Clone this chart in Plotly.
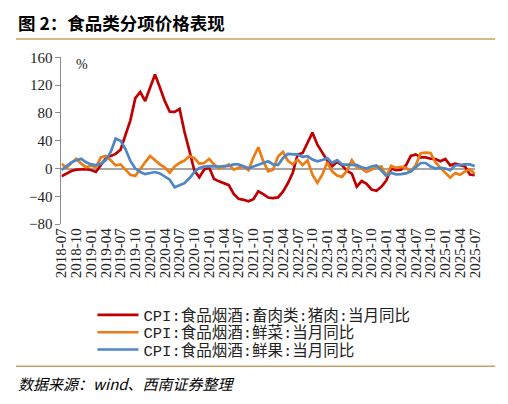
import plotly.graph_objects as go

# ---- data ----
months = [f"{y}-{m:02d}" for y in range(2018, 2026) for m in range(1, 13)]
months = months[months.index("2018-07"):months.index("2025-07") + 1]

pork = [-11, -7.5, -3.5, -1.5, -1, -1, -2, -4.8, 5.1, 14.4, 18.2, 21.1,
        27.0, 46.7, 69.3, 101.3, 110.2, 97.0, 116.0, 135.2, 116.4, 96.9, 81.7, 81.6,
        85.7, 52.6, 25.5, -2.8, -12.5, -1.3, 1.5, -14.9, -18.4, -21.4, -23.8, -36.5,
        -43.5, -44.9, -46.9, -44.0, -32.7, -36.7, -41.6, -42.5, -41.4, -33.3, -21.1, -6.0,
        20.2, 22.4, 36.0, 51.8, 34.4, 22.2, 11.8, 3.4, 9.6, 4.9, -3.2, -7.2,
        -26.0, -17.9, -22.0, -30.1, -31.8, -26.1, -17.3, 0.0, -2.4, -1.5, 4.6, 18.1,
        20.4, 16.1, 16.1, 14.2, 13.7, 10.5, 13.8, 4.7, 7.0, 5.0, 3.1, -8.5,
        -9.5]

veg = [7, 1, 8, 14, 7, 2, 4, 2, 16, 18, 12, 4.6,
       6, -1.5, -9, -10.5, 0, 9, 18, 12, 6, 1.5, -6, 3,
       8, 11.5, 18, 15, 7, 8, 14, 6, 0.5, 2, 6, -1.5,
       1.5, 2.3, -2.3, 15.9, 30.6, 10.6, -4.1, -1.5, 17.2, 24.0, 11.3, 6.1,
       12.9, 5, 12, -8.7, -20.5, -8.7, 9, -4, -10, -12, -3, 12,
       2, 0, -5, -1.5, 2, 3, -11, 4, 1, 2.5, 1, -4,
       5, 22, 23, 22.5, 9, 1, -6, -13, -6.5, -9, -4, -1,
       -7.5]

fruit = [-2, 3, 9, 12, 14, 9, 6, 5, 7, 12, 24, 43,
         40, 28, 11, 0, -5, -8, -6, -5, -7, -11, -16, -27,
         -24, -21, -14, -5, 1, 3, 3.5, 3, 3, 3.5, 4, 6,
         6, 3.5, 0.5, 3, 6, 8, 10.5, 6, 5, 15, 21, 20.5,
         20, 17, 18, 13, 10.5, 12.4, 15, 8, 12, 6, 6, 6,
         5, 2, 0, 3, 4.6, -3, -10.5, -6, -8.5, -8, -7, -4,
         1.5, 8, 8, 3, 0, 1, 0, -2.5, 4.5, 5.5, 6, 6,
         3.5]

names = ["CPI:食品烟酒:畜肉类:猪肉:当月同比",
         "CPI:食品烟酒:鲜菜:当月同比",
         "CPI:食品烟酒:鲜果:当月同比"]
colors = ["#C00000", "#ED7D12", "#4F86C6"]

y_ticks = [-80, -40, 0, 40, 80, 120, 160]
x_ticks = months[::3]

# ---- layout helpers ----
# The page body has an 8px default margin, so the figure is sized to fill the
# remaining window and page-pixel targets are shifted by that offset.
OFF = 8
W, H = 508 - OFF, 404 - OFF
PLOT_L, PLOT_R, PLOT_T, PLOT_B = 55, 482, 51, 225   # page pixels


def px(x):
    return (x - OFF) / W


def py(y):
    return 1 - (y - OFF) / H


serif = "Liberation Serif, Noto Sans CJK SC, serif"
legfont = "Liberation Mono, Noto Sans CJK SC, monospace"

legend_keys = ["legend", "legend2", "legend3"]
legend_rows = [320, 338, 356]

fig = go.Figure()
for nm, vals, c, lk in zip(names, [pork, veg, fruit], colors, legend_keys):
    fig.add_trace(go.Scatter(x=months, y=vals, mode="lines", name=nm, legend=lk,
                             line=dict(color=c, width=2.7), hoverinfo="skip"))

legend_layout = {}
for lk, row in zip(legend_keys, legend_rows):
    legend_layout[lk] = dict(x=px(87), y=py(row), xanchor="left", yanchor="middle",
                             orientation="v", itemwidth=41, bgcolor="rgba(0,0,0,0)",
                             font=dict(family=legfont, size=15.5, color="#222222"))

y_dom = [py(PLOT_B), py(PLOT_T)]

fig.update_layout(
    width=W, height=H,
    margin=dict(l=0, r=0, t=0, b=0),
    paper_bgcolor="white", plot_bgcolor="white",
    showlegend=True,
    xaxis=dict(type="category", range=[0, len(months) - 1],
               domain=[px(PLOT_L), px(PLOT_R)],
               tickmode="array", tickvals=x_ticks, ticktext=x_ticks,
               tickangle=-90, showline=False, ticks="", showgrid=False,
               zeroline=False,
               tickfont=dict(family=serif, size=15, color="#222222")),
    yaxis=dict(range=[-80, 160], tickmode="array", tickvals=y_ticks,
               domain=y_dom,
               showline=True, linecolor="#8C8C8C", linewidth=1,
               ticks="outside", ticklen=5, tickcolor="#8C8C8C",
               showgrid=False, zeroline=True, zerolinecolor="#A6A6A6",
               zerolinewidth=1.6,
               tickfont=dict(family=serif, size=15, color="#222222")),
    **legend_layout,
)

fig.add_annotation(text="<b>图 2：食品类分项价格表现</b>", xref="paper", yref="paper",
                   x=0, y=py(15), xanchor="left", yanchor="middle",
                   showarrow=False,
                   font=dict(family="Noto Sans CJK SC", size=17.5, color="#000000"))
fig.add_annotation(text="<i>数据来源：wind、西南证券整理</i>", xref="paper", yref="paper",
                   x=0, y=py(391), xanchor="left", yanchor="middle",
                   showarrow=False,
                   font=dict(family="Noto Sans CJK SC", size=15, color="#000000"))
fig.add_annotation(text="%", xref="paper", yref="paper",
                   x=px(68), y=py(59), xanchor="left", yanchor="middle",
                   showarrow=False,
                   font=dict(family=serif, size=14, color="#222222"))

# separator rules
for yy in (32, 373):
    fig.add_shape(type="line", xref="paper", yref="paper",
                  x0=0, x1=px(503), y0=py(yy), y1=py(yy),
                  line=dict(color="#C9A06A", width=1.6))

fig.write_html("out.html", config={"displayModeBar": False})
